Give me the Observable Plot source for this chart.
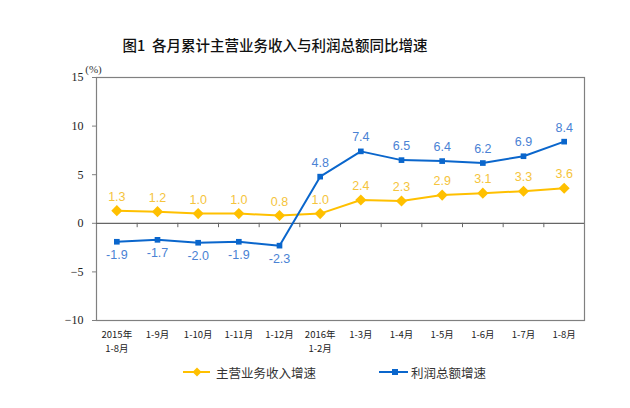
<!DOCTYPE html>
<html>
<head>
<meta charset="utf-8">
<script src="https://cdn.jsdelivr.net/npm/d3@7"></script>
<script src="https://cdn.jsdelivr.net/npm/@observablehq/plot@0.6"></script>
<style>
  html, body { margin: 0; padding: 0; background: #fff; }
  #wrap { width: 630px; height: 408px; position: relative; overflow: hidden; }
  #title { position: absolute; left: 0; top: 34px; width: 550px; text-align: center;
    font-family: "Noto Sans CJK SC", sans-serif; font-size: 14.5px; font-weight: 500; color: #111; }
  #chart { position: absolute; left: 0; top: 60px; }
  #legend { position: absolute; left: 0; top: 362px; width: 630px; height: 20px;
    font-family: "Noto Sans CJK SC", sans-serif; font-size: 12.5px; color: #333; }
  .item { position: absolute; top: 0; display: flex; align-items: center; height: 20px; }
</style>
</head>
<body>
<div id="wrap">
  <div id="title">图1&nbsp;&nbsp;各月累计主营业务收入与利润总额同比增速</div>
  <div id="chart"></div>
  <div id="legend">
    <div class="item" style="left:183px">
      <svg width="30" height="20"><line x1="0" y1="10" x2="27" y2="10" stroke="#FFC000" stroke-width="2"/><path d="M14 5.5 L18.5 10 L14 14.5 L9.5 10 Z" fill="#FFC000"/></svg>
      <span style="margin-left:3px">主营业务收入增速</span>
    </div>
    <div class="item" style="left:379px">
      <svg width="30" height="20"><line x1="0" y1="10" x2="29" y2="10" stroke="#0A66CC" stroke-width="2"/><rect x="13" y="7" width="6" height="6" fill="#0A66CC"/></svg>
      <span style="margin-left:2px">利润总额增速</span>
    </div>
  </div>
</div>
<script>
const categories = ["2015年\n1-8月", "1-9月", "1-10月", "1-11月", "1-12月", "2016年\n1-2月",
                    "1-3月", "1-4月", "1-5月", "1-6月", "1-7月", "1-8月"];
const revenueGrowth = [1.3, 1.2, 1.0, 1.0, 0.8, 1.0, 2.4, 2.3, 2.9, 3.1, 3.3, 3.6];
const profitGrowth = [-1.9, -1.7, -2.0, -1.9, -2.3, 4.8, 7.4, 6.5, 6.4, 6.2, 6.9, 8.4];
const yTicks = [-10, -5, 0, 5, 10, 15];

const idx = categories.map((d, i) => i);
const rev = revenueGrowth.map((v, i) => ({i, v}));
const prof = profitGrowth.map((v, i) => ({i, v}));
const between = idx.slice(0, -1).map(i => i + 0.5);

const yellow = "#FFC000", blue = "#0A66CC";
const yellowLabel = "#F5C43C", blueLabel = "#4A82D4";

const chart = Plot.plot({
  width: 630,
  height: 300,
  marginLeft: 96,
  marginRight: 46,
  marginTop: 17,
  marginBottom: 40,
  x: {type: "linear", domain: [-0.5, 11.5]},
  y: {domain: [-10, 15]},
  style: {background: "transparent"},
  marks: [
    Plot.frame({stroke: "#808080", strokeWidth: 1.2}),
    Plot.ruleY([0], {stroke: "#666", strokeWidth: 1.2}),
    Plot.ruleX(between, {y1: 0, y2: -0.45, stroke: "#666", strokeWidth: 1}),
    Plot.axisY({ticks: yTicks, tickSize: 4, tickPadding: 9, label: null, stroke: "#808080",
      fontFamily: "Liberation Serif, serif", fontSize: 12, fill: "#222"}),
    Plot.axisX({ticks: idx, tickFormat: i => categories[i], tickSize: 0, tickPadding: 8, label: null,
      fontFamily: "Noto Sans CJK SC, sans-serif", fontSize: 9.5, fill: "#222", lineHeight: 1.45}),
    Plot.text(["(%)"], {frameAnchor: "top-left", dx: -3, dy: -12, text: d => d, textAnchor: "middle",
      fontFamily: "Liberation Serif, serif", fontSize: 11, fill: "#333"}),
    Plot.line(rev, {x: "i", y: "v", stroke: yellow, strokeWidth: 2}),
    Plot.dot(rev, {x: "i", y: "v", symbol: "diamond2", r: 5, fill: yellow, stroke: "none"}),
    Plot.line(prof, {x: "i", y: "v", stroke: blue, strokeWidth: 2}),
    Plot.dot(prof, {x: "i", y: "v", symbol: "square2", r: 3.6, fill: blue, stroke: "none"}),
    Plot.text(rev, {x: "i", y: "v", text: d => d.v.toFixed(1), dy: -14, fill: yellowLabel,
      fontFamily: "Liberation Sans, Arial, sans-serif", fontSize: 12.5}),
    Plot.text(prof, {x: "i", y: "v", text: d => d.v.toFixed(1),
      fill: blueLabel, fontFamily: "Liberation Sans, Arial, sans-serif", fontSize: 12.5,
      filter: d => d.v > 0, dy: -14}),
    Plot.text(prof, {x: "i", y: "v", text: d => d.v.toFixed(1),
      fill: blueLabel, fontFamily: "Liberation Sans, Arial, sans-serif", fontSize: 12.5,
      filter: d => d.v < 0, dy: 13})
  ]
});
document.getElementById("chart").appendChild(chart);
</script>
</body>
</html>
